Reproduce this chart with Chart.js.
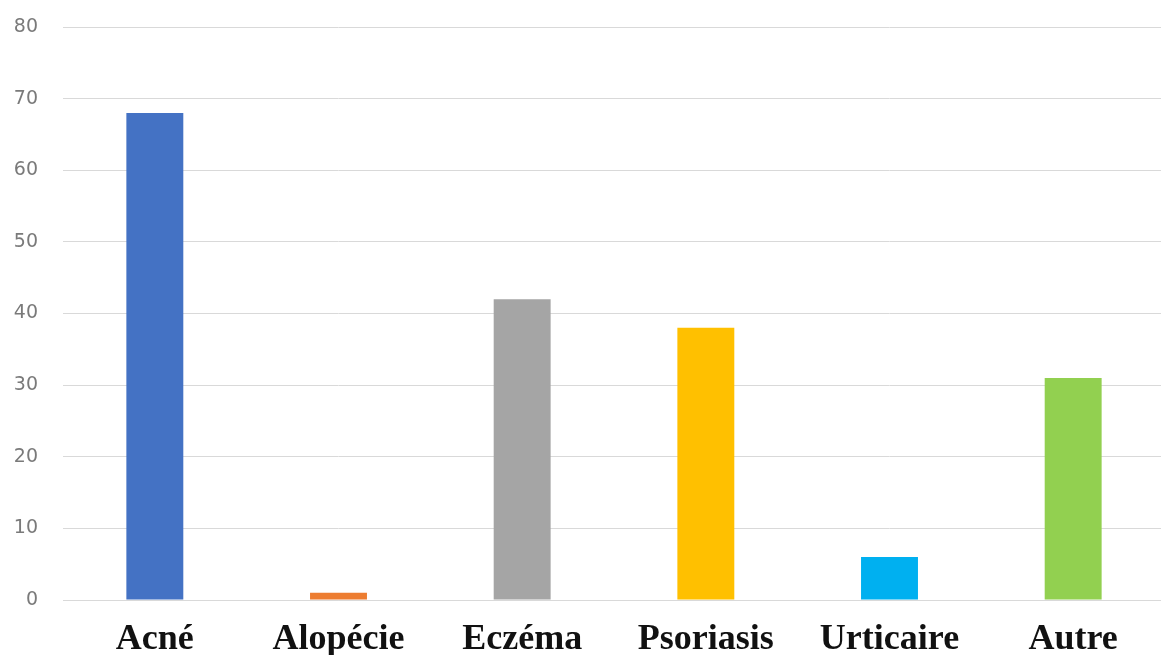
<!DOCTYPE html>
<html>
<head>
<meta charset="utf-8">
<script src="https://cdn.jsdelivr.net/npm/chart.js@4/dist/chart.umd.min.js"></script>
<style>
  html, body { margin: 0; padding: 0; background: #ffffff; overflow: hidden; }
  #wrap { width: 1166px; height: 655px; }
</style>
</head>
<body>
<div id="wrap"><canvas id="c" width="1166" height="655"></canvas></div>
<script>
const categories = ['Acné', 'Alopécie', 'Eczéma', 'Psoriasis', 'Urticaire', 'Autre'];
const values = [68, 1, 42, 38, 6, 31];
const barColors = ['#4472C4', '#ED7D31', '#A5A5A5', '#FFC000', '#00B0F0', '#92D050'];
const yMin = 0, yMax = 80, yStep = 10;

new Chart(document.getElementById('c'), {
  type: 'bar',
  data: {
    labels: categories,
    datasets: [{
      data: values,
      backgroundColor: barColors,
      borderWidth: 0,
      barPercentage: 0.31,
      categoryPercentage: 1.0
    }]
  },
  options: {
    responsive: false,
    animation: false,
    devicePixelRatio: 1,
    layout: { padding: { top: 27, right: 1, bottom: 0, left: 0 } },
    plugins: { legend: { display: false }, tooltip: { enabled: false } },
    scales: {
      x: {
        grid: { display: false, drawTicks: false },
        border: { display: true, color: '#d9d9d9', width: 1 },
        ticks: {
          color: '#111111',
          padding: 18,
          font: { family: '"Liberation Serif", "Times New Roman", serif', size: 36, weight: 'bold' }
        },
        afterFit: (s) => { s.height = 55; }
      },
      y: {
        min: yMin, max: yMax,
        grid: { color: '#d9d9d9', lineWidth: 1, drawTicks: false },
        border: { display: false },
        ticks: {
          stepSize: yStep,
          color: '#7a7a7a',
          padding: 25,
          font: { family: '"DejaVu Sans", sans-serif', size: 19 }
        },
        afterFit: (s) => { s.width = 63; s.paddingTop = 0; s.paddingBottom = 0; }
      }
    }
  }
});
</script>
</body>
</html>
